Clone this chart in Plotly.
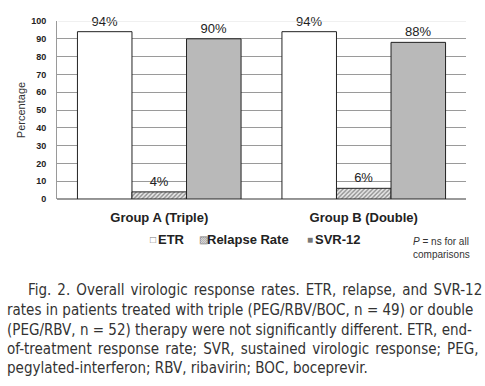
import plotly.graph_objects as go

categories = ["Group A (Triple)", "Group B (Double)"]
etr = [94, 94]
relapse = [4, 6]
svr12 = [90, 88]
yticks = [0, 10, 20, 30, 40, 50, 60, 70, 80, 90, 100]

caption_lines = [
    "Fig. 2. Overall virologic response rates. ETR, relapse, and SVR-12",
    "rates in patients treated with triple (PEG/RBV/BOC, n = 49) or double",
    "(PEG/RBV, n = 52) therapy were not significantly different. ETR, end-",
    "of-treatment response rate; SVR, sustained virologic response; PEG,",
    "pegylated-interferon; RBV, ribavirin; BOC, boceprevir.",
]

fig = go.Figure()
lab = dict(family="Arial, Liberation Sans, sans-serif", size=13, color="#222")
fig.add_bar(name="ETR", x=categories, y=etr, marker=dict(color="white", line=dict(color="#222", width=1)),
            text=[f"{v}%" for v in etr], textposition="outside", textfont=lab, cliponaxis=False)
fig.add_bar(name="Relapse Rate", x=categories, y=relapse,
            marker=dict(color="white", line=dict(color="#222", width=1),
                        pattern=dict(shape="/", fgcolor="#333", bgcolor="#e8e8e8", size=3, solidity=0.45)),
            text=[f"{v}%" for v in relapse], textposition="outside", textfont=lab, cliponaxis=False)
fig.add_bar(name="SVR-12", x=categories, y=svr12, marker=dict(color="#b9b9b9", line=dict(color="#222", width=1)),
            text=[f"{v}%" for v in svr12], textposition="outside", textfont=lab, cliponaxis=False)

fig.update_layout(
    width=485, height=386, margin=dict(l=57, r=19, t=21, b=187, autoexpand=False),
    paper_bgcolor="white", plot_bgcolor="white",
    barmode="group", bargap=0.2, bargroupgap=0, showlegend=False,
    font=dict(family="Arial, Liberation Sans, sans-serif", color="#222"),
)
fig.update_xaxes(showgrid=False, showline=False, ticks="", ticklabelstandoff=9, automargin=False,
                 tickfont=dict(size=13, weight="bold", color="#222"))
fig.update_yaxes(range=[0, 100], tickvals=yticks, showgrid=True, gridcolor="#9a9a9a", gridwidth=1,
                 showline=True, linecolor="#9a9a9a", linewidth=1, zeroline=True, zerolinecolor="#9a9a9a",
                 ticks="", ticklabelstandoff=8, automargin=False,
                 tickfont=dict(size=9, weight="bold", color="#222"),
                 title=dict(text="Percentage", font=dict(size=11, color="#333"), standoff=3))

# lighter top gridline
fig.add_shape(type="line", xref="paper", yref="y", x0=0.003, x1=1, y0=yticks[-1], y1=yticks[-1],
              line=dict(color="#e2e2e2", width=1), layer="above")

# legend as text
leg = [("□", "ETR", 148), ("▨", "Relapse Rate", 197), ("■", "SVR-12", 305)]
for sym, name, x in leg:
    fig.add_annotation(xref="paper", yref="paper", x=(x - 57) / 409, y=(199 - 239) / 178, text=sym,
                       showarrow=False, xanchor="left", yanchor="middle",
                       font=dict(size=10, color="#777"))
    fig.add_annotation(xref="paper", yref="paper", x=(x + 8 - 57) / 409, y=(199 - 239) / 178, text=name,
                       showarrow=False, xanchor="left", yanchor="middle",
                       font=dict(size=13, weight="bold", color="#222"))

fig.add_annotation(xref="paper", yref="paper", x=(411 - 57) / 409, y=(199 - 248) / 178,
                   text="<i>P</i> = ns for all<br>comparisons", showarrow=False, xanchor="left",
                   yanchor="middle", align="left", font=dict(size=10, color="#333"))

cap_font = dict(family="Liberation Sans Narrow, DejaVu Sans Condensed, Arial Narrow, sans-serif",
                size=15, color="#333")
ys = [290, 310, 330, 349, 368]
xs = [26, 5, 5, 5, 5]
wsp = [1.8, 0, 0, 1.8, 0]
for t, y, x, w in zip(caption_lines, ys, xs, wsp):
    fig.add_annotation(xref="paper", yref="paper", x=(x - 57) / 409, y=(199 - y) / 178,
                       text=f'<span style="word-spacing:{w}px">{t}</span>',
                       showarrow=False, xanchor="left", yanchor="middle", font=cap_font)

fig.write_html("out.html", config={"displayModeBar": False},
               post_script="document.body.style.margin='0';document.body.style.overflow='hidden';")
